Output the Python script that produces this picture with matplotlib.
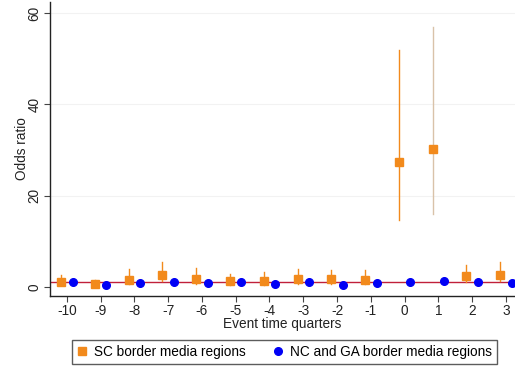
import matplotlib
matplotlib.use("Agg")
import matplotlib.pyplot as plt
import numpy as np

plt.rcParams['font.family'] = ['Liberation Sans', 'DejaVu Sans']

# Event time (quarters relative to the event)
quarters = [-10, -9, -8, -7, -6, -5, -4, -3, -2, -1, 0, 1, 2, 3]

# SC border media regions: odds ratio and 95% CI
sc_or = [1.0, 0.7, 1.5, 2.6, 1.7, 1.2, 1.3, 1.7, 1.7, 1.5, 27.3, 30.1, 2.3, 2.6]
sc_lo = [0.4, 0.3, 0.6, 1.2, 0.7, 0.5, 0.5, 0.7, 0.7, 0.6, 14.7, 16.0, 1.0, 1.2]
sc_hi = [2.6, 1.5, 3.9, 5.5, 4.1, 2.8, 3.2, 3.9, 3.7, 3.6, 51.9, 57.0, 4.8, 5.4]

# NC and GA border media regions: odds ratio and 95% CI
nc_or = [1.1, 0.5, 0.9, 1.0, 0.8, 1.15, 0.7, 1.0, 0.5, 0.8, 1.1, 1.3, 1.0, 0.8]
nc_lo = [0.8, 0.3, 0.6, 0.7, 0.5, 0.8, 0.4, 0.7, 0.3, 0.5, 0.8, 0.9, 0.7, 0.5]
nc_hi = [1.5, 0.8, 1.3, 1.4, 1.2, 1.6, 1.1, 1.4, 0.8, 1.2, 1.5, 1.8, 1.4, 1.2]

y_ticks = [0, 20, 40, 60]

orange = '#f28a1c'
tan = '#d9c2a9'
blue = '#0000f5'
red = '#c0203a'
fs = 9.8

fig = plt.figure(figsize=(5.15, 3.67), dpi=100)
ax = fig.add_axes([50 / 515, 1 - 296 / 367, 465 / 515, 294 / 367])

x = np.array(quarters, dtype=float)
off = 0.17

for yy in y_ticks[1:]:
    ax.axhline(yy, color='#f2f2f2', lw=0.8, zorder=0)
ax.axhline(1, color=red, lw=1.0, zorder=1)

# confidence intervals
sc_colors = [orange] * len(quarters)
sc_colors[quarters.index(1)] = tan
for xi, lo, hi, c in zip(x - off, sc_lo, sc_hi, sc_colors):
    ax.plot([xi, xi], [lo, hi], color=c, lw=1.0, zorder=2)
for xi, lo, hi in zip(x + off, nc_lo, nc_hi):
    ax.plot([xi, xi], [lo, hi], color=blue, lw=1.0, zorder=2)

ax.plot(x - off, sc_or, 's', color=orange, ms=5.5, mec=orange, zorder=3,
        label='SC border media regions')
ax.plot(x + off, nc_or, 'o', color=blue, ms=5.5, mec=blue, zorder=3,
        label='NC and GA border media regions')

ax.set_xlim(-10.5, 3.27)
ax.set_ylim(-2, 62.4)
ax.set_xticks(quarters)
ax.set_xticklabels([str(q) for q in quarters])
ax.set_yticks(y_ticks)
ax.set_yticklabels([str(t) for t in y_ticks], rotation=90, va='center')

ax.spines['top'].set_visible(False)
ax.spines['right'].set_visible(False)
for s in ('left', 'bottom'):
    ax.spines[s].set_linewidth(1.0)
    ax.spines[s].set_color('#222222')
ax.tick_params(axis='both', direction='out', length=4, width=0.8,
               color='#444444', labelsize=fs, labelcolor='#222222')
ax.tick_params(axis='x', pad=2)
ax.tick_params(axis='y', pad=2)

ax.set_xlabel('Event time quarters', fontsize=fs, labelpad=-1, color='#222222')
ax.set_ylabel('Odds ratio', fontsize=fs, labelpad=-1, color='#222222')

handles, labels = ax.get_legend_handles_labels()
fig.legend(handles, labels, loc='upper left',
           bbox_to_anchor=(72 / 515, 1 - 340 / 367),
           ncol=2, fontsize=fs, frameon=True, fancybox=False,
           edgecolor='#333333', handlelength=0.8, handletextpad=0.5,
           borderpad=0.35, borderaxespad=0, columnspacing=1.9)

fig.savefig('out.png', dpi=100)
